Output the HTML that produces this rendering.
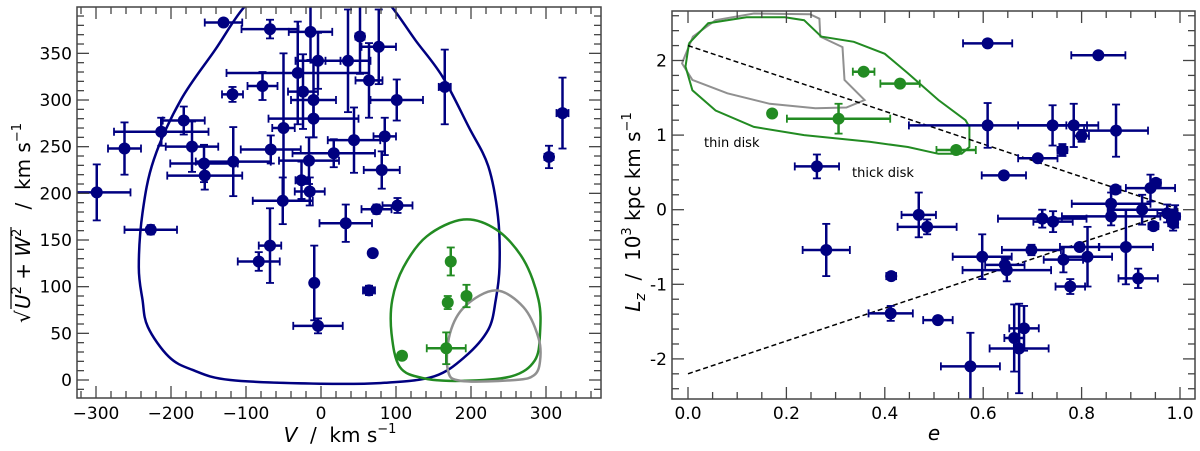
<!DOCTYPE html>
<html><head><meta charset="utf-8"><style>
html,body{margin:0;padding:0;background:#fff;}
svg{display:block;font-family:"DejaVu Sans","Liberation Sans",sans-serif;}
text{white-space:pre;}
</style></head><body>
<svg id="fig" width="1200" height="451" viewBox="0 0 1200 451" xmlns="http://www.w3.org/2000/svg">
<defs>
<clipPath id="clipL"><rect x="77" y="7" width="524" height="391"/></clipPath>
<clipPath id="clipR"><rect x="672" y="11" width="523" height="388"/></clipPath>
</defs>
<g id="left"></g>
<g id="right"></g>
<g transform="translate(30,205) rotate(-90)">
<text x="-118" y="0" font-size="20">√</text>
<line x1="-104" y1="-19" x2="-22" y2="-19" stroke="#000" stroke-width="1.2"/>
<text x="-104" y="0" font-size="20"><tspan font-style="italic">U</tspan><tspan font-size="13" dy="-9">2</tspan><tspan dy="9"> + </tspan><tspan font-style="italic">W</tspan><tspan font-size="13" dy="-9">2</tspan><tspan dy="9">   /  km s</tspan><tspan font-size="13" dy="-9">−1</tspan></text>
</g>
<text x="340" y="442" font-size="20" text-anchor="middle"><tspan font-style="italic">V</tspan>  /  km s<tspan font-size="13" dy="-9">−1</tspan></text>
<text x="934" y="440" font-size="20" font-style="italic" text-anchor="middle">e</text>
<g transform="translate(640,212) rotate(-90)">
<text x="0" y="0" font-size="20" text-anchor="middle"><tspan font-style="italic">L</tspan><tspan font-style="italic" font-size="14" dy="5">z</tspan><tspan dy="-5">  /  10</tspan><tspan font-size="13" dy="-9">3</tspan><tspan dy="9"> kpc km s</tspan><tspan font-size="13" dy="-9">−1</tspan></text>
</g>
<text x="704" y="147" font-size="13">thin disk</text>
<text x="852" y="177" font-size="13">thick disk</text>
</svg>
<script>
// ---------- Left panel data ----------
const leftBlueV  = [-130,-68,-14,52,77,-4,36,-31,64,-118,-78,-24,-10,101,165,322,304,-183,-213,-262,-172,-156,-155,-117,-299,-227,-67,-50,-10,-51,-16,-26,-15,17,44,85,81,74,102,33,-68,-83,-9,-4,69,64];
const leftBlueU  = [383,376,373,368,357,342,342,329,321,306,315,309,300,300,314,286,239,278,266,248,250,232,219,234,201,161,247,270,280,192,235,214,202,243,257,261,225,183,187,168,144,127,104,58,136,96];
const leftBlueEV = [25,38,29,6,23,30,30,95,18,14,20,20,30,35,8,8,6,28,63,22,35,45,50,50,45,35,40,15,60,40,40,8,20,55,35,15,24,20,20,35,15,28,3,33,0,8];
const leftBlueEU = [4,10,30,40,40,30,55,55,40,8,15,40,40,22,40,38,12,15,15,28,27,20,15,37,30,5,15,80,20,25,25,20,15,15,35,20,20,5,8,20,40,10,40,8,0,5];
const leftGreenV  = [173,194,169,167,108];
const leftGreenU  = [127,90,83,34,26];
const leftGreenEV = [5,5,3,26,5];
const leftGreenEU = [15,12,7,17,3];
const leftXTicks = [-300,-200,-100,0,100,200,300];
const leftXTickLabels = ["−300","−200","−100","0","100","200","300"];
const leftYTicks = [0,50,100,150,200,250,300,350];
const leftYTickLabels = ["0","50","100","150","200","250","300","350"];
const navyContourV = [-103,-141,-187,-223,-238,-243,-238,-231,-203,-172,-121,0,85,151,192,223,233,238,236,223,197,162,126,95,60,-60,-103];
const navyContourU = [399,354,300,236,179,121,86,57,25,11,0,-4,-3,4,25,54,86,121,175,229,271,325,364,399,430,430,399];
const greenContourV = [190,234,270,290,292,285,254,187,136,105,94,95,110,141,190];
const greenContourU = [172,161,129,86,50,21,4,-1,2,14,50,86,121,154,172];
const grayContourV = [233,270,290,292,284,259,187,169,172,192,233];
const grayContourU = [96,78,45,20,5,0,-1,11,50,79,96];

// ---------- Right panel data ----------
const rightBlueE  = [0.609,0.834,0.609,0.741,0.784,0.87,0.80,0.761,0.711,0.642,0.262,0.869,0.951,0.94,0.86,0.923,0.974,0.99,0.986,0.946,0.72,0.742,0.86,0.469,0.486,0.281,0.698,0.796,0.598,0.644,0.648,0.763,0.812,0.89,0.413,0.777,0.915,0.412,0.508,0.683,0.663,0.673,0.574];
const rightBlueL  = [2.23,2.07,1.13,1.13,1.13,1.06,0.99,0.80,0.69,0.46,0.58,0.27,0.36,0.29,0.08,0.0,-0.05,-0.09,-0.18,-0.22,-0.12,-0.16,-0.09,-0.07,-0.23,-0.54,-0.54,-0.50,-0.63,-0.74,-0.81,-0.67,-0.63,-0.50,-0.89,-1.03,-0.92,-1.39,-1.48,-1.59,-1.72,-1.86,-2.10];
const rightBlueEE = [0.05,0.055,0.16,0.07,0.05,0.065,0.015,0.01,0.04,0.045,0.045,0.01,0.01,0.05,0.08,0.07,0.02,0.01,0.01,0.01,0.09,0.04,0.1,0.035,0.06,0.048,0.06,0.04,0.06,0.04,0.09,0.04,0.05,0.055,0.01,0.03,0.04,0.045,0.03,0.03,0.02,0.06,0.06];
const rightBlueEL = [0.05,0.03,0.3,0.27,0.29,0.35,0.08,0.08,0.02,0.02,0.16,0.05,0.02,0.18,0.15,0.2,0.12,0.15,0.1,0.03,0.12,0.14,0.12,0.3,0.1,0.35,0.07,0.04,0.3,0.08,0.15,0.17,0.4,0.5,0.04,0.1,0.13,0.1,0.05,0.3,0.45,0.6,0.45];
const rightGreenE  = [0.357,0.431,0.171,0.306,0.545];
const rightGreenL  = [1.85,1.69,1.29,1.22,0.80];
const rightGreenEE = [0.022,0.04,0.004,0.105,0.04];
const rightGreenEL = [0.03,0.02,0.02,0.2,0.03];
const rightXTicks = [0,0.2,0.4,0.6,0.8,1.0];
const rightXTickLabels = ["0.0","0.2","0.4","0.6","0.8","1.0"];
const rightYTicks = [-2,-1,0,1,2];
const rightYTickLabels = ["-2","-1","0","1","2"];
const dashUpperE = [0,1]; const dashUpperL = [2.2,0];
const dashLowerE = [0,1]; const dashLowerL = [-2.2,0];
const grayRContourE = [-0.01,0.01,0.056,0.134,0.248,0.267,0.269,0.314,0.318,0.359,0.322,0.259,0.166,0.08,0.009,-0.012,-0.01];
const grayRContourL = [2.0,2.32,2.54,2.63,2.62,2.56,2.32,2.18,1.74,1.47,1.37,1.36,1.42,1.56,1.74,1.96,2.0];
const greenRContourE = [0.002,0.041,0.119,0.197,0.236,0.271,0.337,0.4,0.447,0.509,0.564,0.572,0.572,0.556,0.509,0.447,0.369,0.236,0.134,0.056,0.009,-0.005,0.002];
const greenRContourL = [2.23,2.5,2.58,2.58,2.54,2.32,2.25,2.09,1.83,1.47,1.2,1.11,0.84,0.75,0.75,0.84,0.91,1.0,1.11,1.33,1.6,1.92,2.23];

const NS="http://www.w3.org/2000/svg";
function mk(tag, attrs, parent){const e=document.createElementNS(NS,tag);for(const k in attrs)e.setAttribute(k,attrs[k]);parent.appendChild(e);return e;}

const LX=v=>321+0.75*v, LY=u=>380-0.9333*u;
const RX=e=>688+492*e, RY=l=>209.7-74.6*l;
const NAVY="#000080", GREEN="#228b22";

function frame(g,x0,y0,x1,y1,name){
  const r=mk('rect',{x:x0,y:y0,width:x1-x0,height:y1-y0,fill:'none',stroke:'#444','stroke-width':1.5},g);
  
  
}
function ticks(g,x0,y0,x1,y1,xs,ys,major,isMajorX,isMajorY){
  for(const t of xs){const px=major.x(t);const L=isMajorX(t)?12:7;
    mk('line',{x1:px,y1:y1,x2:px,y2:y1-L,stroke:'#444','stroke-width':1.3},g);
    mk('line',{x1:px,y1:y0,x2:px,y2:y0+L,stroke:'#444','stroke-width':1.3},g);}
  for(const t of ys){const py=major.y(t);const L=isMajorY(t)?12:7;
    mk('line',{x1:x0,y1:py,x2:x0+L,y2:py,stroke:'#444','stroke-width':1.3},g);
    mk('line',{x1:x1,y1:py,x2:x1-L,y2:py,stroke:'#444','stroke-width':1.3},g);}
}
function poly(g,xs,ys,fx,fy,attrs,name,clip,smooth){
  const P=xs.map((v,i)=>[fx(v),fy(ys[i])]);
  let d='M'+P[0][0].toFixed(1)+','+P[0][1].toFixed(1);
  if(smooth){
    const closed=Math.abs(P[0][0]-P[P.length-1][0])<0.5&&Math.abs(P[0][1]-P[P.length-1][1])<0.5;
    const n=P.length;
    const get=i=>{if(closed){const m=n-1;return P[((i%m)+m)%m];}return P[Math.max(0,Math.min(n-1,i))];};
    for(let i=0;i<n-1;i++){
      const p0=get(i-1),p1=get(i),p2=get(i+1),p3=get(i+2);
      const c1=[p1[0]+(p2[0]-p0[0])/6,p1[1]+(p2[1]-p0[1])/6];
      const c2=[p2[0]-(p3[0]-p1[0])/6,p2[1]-(p3[1]-p1[1])/6];
      d+=' C'+c1.map(v=>v.toFixed(1)).join(',')+' '+c2.map(v=>v.toFixed(1)).join(',')+' '+p2[0].toFixed(1)+','+p2[1].toFixed(1);
    }
  } else {
    for(let i=1;i<P.length;i++)d+=' L'+P[i][0].toFixed(1)+','+P[i][1].toFixed(1);
  }
  const p=mk('path',Object.assign({d:d,fill:'none','clip-path':clip},attrs),g);
  
  
}
function points(g,xs,ys,ex,ey,fx,fy,color,name,clip){
  const gg=mk('g',{'clip-path':clip},g);
  xs.forEach((v,i)=>{
    const cx=fx(v), cy=fy(ys[i]);
    const grp=mk('g',{},gg);
    
    
    if(ex[i]>0){const a=fx(v-ex[i]),b=fx(v+ex[i]);
      mk('line',{x1:a,y1:cy,x2:b,y2:cy,stroke:color,'stroke-width':2.5},grp);
      mk('line',{x1:a,y1:cy-4,x2:a,y2:cy+4,stroke:color,'stroke-width':1.8},grp);
      mk('line',{x1:b,y1:cy-4,x2:b,y2:cy+4,stroke:color,'stroke-width':1.8},grp);}
    if(ey[i]>0){const a=fy(ys[i]-ey[i]),b=fy(ys[i]+ey[i]);
      mk('line',{x1:cx,y1:a,x2:cx,y2:b,stroke:color,'stroke-width':2.5},grp);
      mk('line',{x1:cx-4,y1:a,x2:cx+4,y2:a,stroke:color,'stroke-width':1.8},grp);
      mk('line',{x1:cx-4,y1:b,x2:cx+4,y2:b,stroke:color,'stroke-width':1.8},grp);}
    mk('circle',{cx:cx,cy:cy,r:6,fill:color},grp);
  });
}
function range(a,b,s){const r=[];for(let v=a;v<=b+1e-9;v+=s)r.push(+v.toFixed(6));return r;}

// ---- Left ----
const gl=document.getElementById('left');
poly(gl,navyContourV,navyContourU,LX,LY,{stroke:NAVY,'stroke-width':2.5},'thick-disk-contour','url(#clipL)',true);
poly(gl,greenContourV,greenContourU,LX,LY,{stroke:GREEN,'stroke-width':2.5},'green-contour','url(#clipL)',true);
poly(gl,grayContourV,grayContourU,LX,LY,{stroke:'#909090','stroke-width':2.5},'thin-disk-contour','url(#clipL)',true);
points(gl,leftBlueV,leftBlueU,leftBlueEV,leftBlueEU,LX,LY,NAVY,'blue-star','url(#clipL)');
points(gl,leftGreenV,leftGreenU,leftGreenEV,leftGreenEU,LX,LY,GREEN,'green-star','url(#clipL)');
ticks(gl,77,7,601,398,range(-320,360,20),range(-10,390,10),{x:LX,y:LY},t=>t%100===0,t=>t%50===0);
frame(gl,77,7,601,398,'left-plot-frame');
leftXTicks.forEach((t,i)=>{const e=mk('text',{x:LX(t),y:419,'font-size':17,'text-anchor':'middle'},gl);e.textContent=leftXTickLabels[i];
  
  });
leftYTicks.forEach((t,i)=>{const e=mk('text',{x:72,y:LY(t)+6,'font-size':17,'text-anchor':'end'},gl);e.textContent=leftYTickLabels[i];
  
  });

// ---- Right ----
const gr=document.getElementById('right');
poly(gr,grayRContourE,grayRContourL,RX,RY,{stroke:'#909090','stroke-width':2},'thin-disk-contour-right','url(#clipR)',false);
poly(gr,greenRContourE,greenRContourL,RX,RY,{stroke:GREEN,'stroke-width':2},'green-contour-right','url(#clipR)',false);
poly(gr,dashUpperE,dashUpperL,RX,RY,{stroke:'#000','stroke-width':1.5,'stroke-dasharray':'5,3'},'upper-dashed-line','url(#clipR)',false);
poly(gr,dashLowerE,dashLowerL,RX,RY,{stroke:'#000','stroke-width':1.5,'stroke-dasharray':'5,3'},'lower-dashed-line','url(#clipR)',false);
points(gr,rightBlueE,rightBlueL,rightBlueEE,rightBlueEL,RX,RY,NAVY,'blue-star-r','url(#clipR)');
points(gr,rightGreenE,rightGreenL,rightGreenEE,rightGreenEL,RX,RY,GREEN,'green-star-r','url(#clipR)');
ticks(gr,672,11,1195,399,range(0,1,0.05),range(-2.4,2.6,0.2),{x:RX,y:RY},t=>Math.abs(t*5-Math.round(t*5))<1e-6,t=>Math.abs(t-Math.round(t))<1e-6);
frame(gr,672,11,1195,399,'right-plot-frame');
rightXTicks.forEach((t,i)=>{const e=mk('text',{x:RX(t),y:419,'font-size':17,'text-anchor':'middle'},gr);e.textContent=rightXTickLabels[i];
  
  });
rightYTicks.forEach((t,i)=>{const e=mk('text',{x:667,y:RY(t)+6,'font-size':17,'text-anchor':'end'},gr);e.textContent=rightYTickLabels[i];
  
  });
</script>
</body></html>
